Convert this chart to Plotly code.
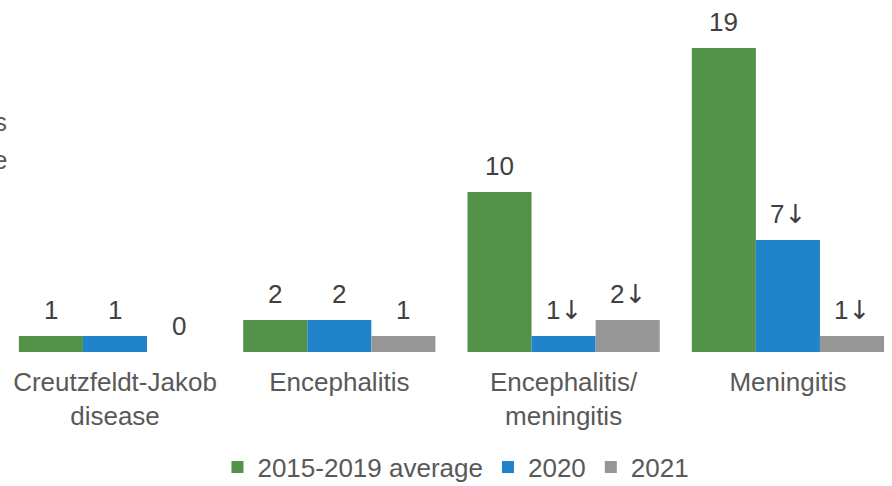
import plotly.graph_objects as go

categories = ["Creutzfeldt-Jakob<br>disease", "Encephalitis", "Encephalitis/<br>meningitis", "Meningitis"]
series_names = ["2015-2019 average", "2020", "2021"]
avg_2015_2019 = [1, 2, 10, 19]
cases_2020 = [1, 2, 1, 7]
cases_2021 = [0, 1, 2, 1]
# significant decrease flags, shown as a down arrow after the value
down_avg = [False, False, False, False]
down_2020 = [False, False, True, True]
down_2021 = [False, False, True, True]

colors = ["#559249", "#2183C9", "#969696"]
FONT = "'Liberation Sans', Arial, sans-serif"
TEXT = "#595959"
LABEL = "#404040"
BARGAP = 0.143
ARROW = "<span style='font-family:DejaVu Sans;color:#404040'>\u2193\ufe0e</span>"

x_pos = list(range(len(categories)))
series = [(avg_2015_2019, down_avg), (cases_2020, down_2020), (cases_2021, down_2021)]

fig = go.Figure()
for name, (vals, _), col in zip(series_names, series, colors):
    fig.add_trace(go.Bar(
        x=x_pos, y=vals, name=name,
        marker=dict(color=col, line=dict(width=0)),
        hoverinfo="name+y",
    ))

# value labels above each bar, placed at the grouped bar centres
n = len(series)
bar_w = (1 - BARGAP) / n
for i, (vals, flags) in enumerate(series):
    for xp, v, f in zip(x_pos, vals, flags):
        fig.add_annotation(
            x=xp + (i - (n - 1) / 2) * bar_w, y=v, xref="x", yref="y",
            text=f"{v}" + (ARROW if f else ""),
            showarrow=False, xanchor="center", yanchor="bottom", yshift=9,
            font=dict(family=FONT, size=26, color=LABEL),
        )

fig.update_layout(
    width=892, height=486,
    margin=dict(l=3, r=0, t=0, b=134, autoexpand=False),
    paper_bgcolor="white", plot_bgcolor="white",
    barmode="group", bargap=BARGAP, bargroupgap=0,
    font=dict(family=FONT, size=26, color=TEXT),
    showlegend=True,
    legend=dict(orientation="h", x=0.5095, xanchor="center", y=-0.327, yanchor="middle",
                font=dict(size=26, color=TEXT), itemwidth=30, traceorder="normal"),
    xaxis=dict(tickmode="array", tickvals=x_pos, ticktext=categories,
               range=[-0.4993, 3.464], showgrid=False, zeroline=False, showline=False,
               ticks="", ticklabelstandoff=12, automargin=False,
               tickfont=dict(size=26, color=TEXT)),
    yaxis=dict(range=[0, 22], visible=False, automargin=False),
)

# text running in from the left edge of the slide
fig.add_annotation(text="s", xref="paper", yref="paper", x=0.0068, y=0.653,
                   xanchor="right", yanchor="middle", showarrow=False,
                   font=dict(size=26, color=TEXT))
fig.add_annotation(text="e", xref="paper", yref="paper", x=0.0068, y=0.545,
                   xanchor="right", yanchor="middle", showarrow=False,
                   font=dict(size=26, color=TEXT))

fig.write_html("out.html")
